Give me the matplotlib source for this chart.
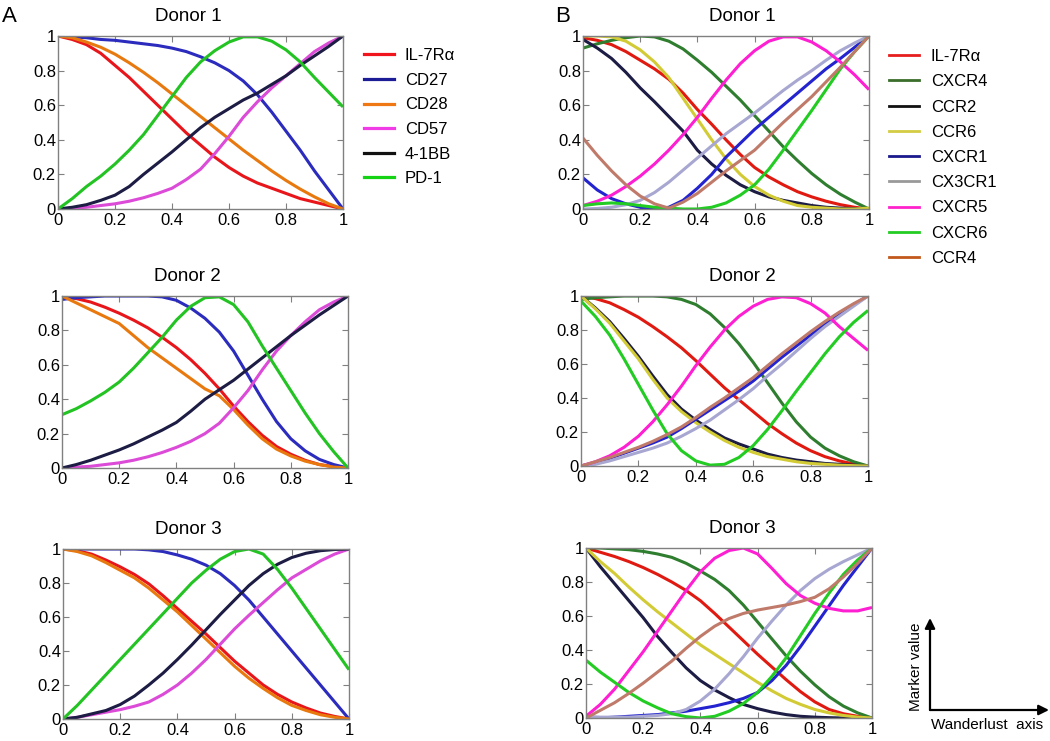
import numpy as np
import matplotlib
matplotlib.use("Agg")
import matplotlib.pyplot as plt
from matplotlib.lines import Line2D
from matplotlib.patches import FancyArrowPatch

plt.rcParams['font.family'] = ['Liberation Sans', 'DejaVu Sans']

# ---------------- data ----------------
x = [0.0, 0.05, 0.1, 0.15, 0.2, 0.25, 0.3, 0.35, 0.4, 0.45, 0.5,
     0.55, 0.6, 0.65, 0.7, 0.75, 0.8, 0.85, 0.9, 0.95, 1.0]

markers_a = ["IL-7Rα", "CD27", "CD28", "CD57", "4-1BB", "PD-1"]
markers_b = ["IL-7Rα", "CXCR4", "CCR2", "CCR6", "CXCR1", "CX3CR1", "CXCR5", "CXCR6", "CCR4"]
donors = ["Donor 1", "Donor 2", "Donor 3"]

# Panel A, donor 1
a1_il7r = [1.0, 0.98, 0.95, 0.90, 0.83, 0.76, 0.68, 0.60, 0.52, 0.44, 0.37, 0.30, 0.24, 0.19, 0.15, 0.12, 0.09, 0.06, 0.04, 0.02, 0.0]
a1_cd27 = [1.0, 0.995, 0.99, 0.98, 0.975, 0.965, 0.955, 0.945, 0.93, 0.91, 0.88, 0.845, 0.80, 0.74, 0.66, 0.56, 0.45, 0.34, 0.22, 0.11, 0.0]
a1_cd28 = [1.0, 0.99, 0.965, 0.935, 0.895, 0.845, 0.79, 0.73, 0.665, 0.60, 0.535, 0.47, 0.405, 0.34, 0.28, 0.22, 0.165, 0.115, 0.07, 0.03, 0.0]
a1_cd57 = [0.0, 0.005, 0.01, 0.02, 0.03, 0.045, 0.065, 0.09, 0.12, 0.17, 0.23, 0.32, 0.42, 0.53, 0.62, 0.70, 0.77, 0.84, 0.91, 0.96, 1.0]
a1_41bb = [0.0, 0.01, 0.025, 0.05, 0.08, 0.13, 0.2, 0.265, 0.33, 0.40, 0.47, 0.53, 0.58, 0.63, 0.67, 0.72, 0.77, 0.83, 0.885, 0.94, 1.0]
a1_pd1 = [0.0, 0.06, 0.13, 0.19, 0.26, 0.34, 0.43, 0.54, 0.65, 0.76, 0.85, 0.915, 0.965, 0.995, 0.995, 0.97, 0.92, 0.85, 0.76, 0.675, 0.59]

# Panel A, donor 2
a2_il7r = [1.0, 0.985, 0.965, 0.935, 0.90, 0.86, 0.815, 0.76, 0.70, 0.63, 0.55, 0.46, 0.36, 0.27, 0.19, 0.125, 0.08, 0.045, 0.02, 0.008, 0.0]
a2_cd27 = [0.98, 0.99, 0.995, 1.0, 1.0, 1.0, 1.0, 0.995, 0.975, 0.93, 0.87, 0.79, 0.68, 0.54, 0.40, 0.27, 0.17, 0.10, 0.05, 0.02, 0.0]
a2_cd28 = [1.0, 0.96, 0.92, 0.88, 0.84, 0.77, 0.70, 0.64, 0.58, 0.52, 0.46, 0.42, 0.34, 0.25, 0.17, 0.11, 0.07, 0.04, 0.02, 0.005, 0.0]
a2_cd57 = [0.0, 0.005, 0.01, 0.02, 0.03, 0.045, 0.065, 0.09, 0.12, 0.155, 0.20, 0.26, 0.35, 0.45, 0.57, 0.68, 0.77, 0.85, 0.92, 0.965, 1.0]
a2_41bb = [0.0, 0.02, 0.045, 0.075, 0.105, 0.14, 0.18, 0.22, 0.265, 0.33, 0.40, 0.455, 0.51, 0.575, 0.64, 0.705, 0.77, 0.83, 0.89, 0.945, 1.0]
a2_pd1 = [0.31, 0.345, 0.39, 0.44, 0.50, 0.58, 0.67, 0.76, 0.86, 0.94, 0.99, 0.995, 0.95, 0.85, 0.71, 0.58, 0.45, 0.32, 0.2, 0.095, 0.0]

# Panel A, donor 3
a3_il7r = [1.0, 0.99, 0.97, 0.935, 0.895, 0.85, 0.795, 0.725, 0.65, 0.575, 0.50, 0.42, 0.34, 0.27, 0.20, 0.145, 0.10, 0.065, 0.035, 0.015, 0.0]
a3_cd27 = [1.0, 1.0, 1.0, 1.0, 1.0, 1.0, 0.995, 0.985, 0.965, 0.94, 0.905, 0.855, 0.785, 0.70, 0.60, 0.50, 0.40, 0.30, 0.20, 0.10, 0.0]
a3_cd28 = [1.0, 0.985, 0.96, 0.92, 0.875, 0.83, 0.77, 0.70, 0.63, 0.55, 0.47, 0.39, 0.31, 0.24, 0.18, 0.125, 0.08, 0.05, 0.025, 0.01, 0.0]
a3_cd57 = [0.0, 0.01, 0.025, 0.04, 0.055, 0.075, 0.10, 0.145, 0.20, 0.27, 0.35, 0.44, 0.53, 0.61, 0.685, 0.76, 0.83, 0.88, 0.93, 0.97, 1.0]
a3_41bb = [0.0, 0.01, 0.03, 0.05, 0.085, 0.135, 0.2, 0.27, 0.35, 0.435, 0.525, 0.615, 0.70, 0.785, 0.855, 0.91, 0.95, 0.975, 0.99, 0.997, 1.0]
a3_pd1 = [0.0, 0.08, 0.17, 0.26, 0.35, 0.44, 0.53, 0.62, 0.71, 0.80, 0.875, 0.94, 0.985, 1.0, 0.97, 0.88, 0.77, 0.65, 0.53, 0.41, 0.29]

# Panel B, donor 1
b1_il7r = [0.99, 0.975, 0.95, 0.91, 0.86, 0.81, 0.75, 0.67, 0.575, 0.49, 0.40, 0.315, 0.24, 0.185, 0.14, 0.10, 0.07, 0.045, 0.025, 0.01, 0.0]
b1_cxcr4 = [0.93, 0.955, 0.975, 0.99, 1.0, 0.995, 0.97, 0.925, 0.86, 0.79, 0.71, 0.63, 0.54, 0.45, 0.36, 0.28, 0.205, 0.14, 0.085, 0.04, 0.0]
b1_ccr2 = [0.98, 0.93, 0.87, 0.79, 0.70, 0.62, 0.535, 0.45, 0.34, 0.26, 0.195, 0.14, 0.10, 0.07, 0.05, 0.035, 0.02, 0.01, 0.005, 0.002, 0.0]
b1_ccr6 = [1.0, 1.0, 0.995, 0.97, 0.92, 0.85, 0.76, 0.64, 0.52, 0.40, 0.29, 0.2, 0.13, 0.08, 0.045, 0.02, 0.01, 0.005, 0.0, 0.0, 0.005]
b1_cxcr1 = [0.18, 0.11, 0.06, 0.03, 0.01, 0.0, 0.01, 0.05, 0.12, 0.2, 0.3, 0.38, 0.46, 0.53, 0.6, 0.67, 0.74, 0.81, 0.87, 0.935, 1.0]
b1_cx3cr1 = [0.0, 0.003, 0.01, 0.025, 0.05, 0.095, 0.155, 0.225, 0.295, 0.365, 0.435, 0.495, 0.555, 0.62, 0.685, 0.745, 0.80, 0.86, 0.915, 0.96, 1.0]
b1_cxcr5 = [0.02, 0.045, 0.08, 0.13, 0.19, 0.26, 0.34, 0.43, 0.53, 0.64, 0.745, 0.84, 0.915, 0.97, 0.995, 0.995, 0.965, 0.915, 0.85, 0.775, 0.69]
b1_cxcr6 = [0.02, 0.03, 0.035, 0.03, 0.02, 0.01, 0.005, 0.0, 0.0, 0.01, 0.035, 0.08, 0.14, 0.23, 0.34, 0.455, 0.57, 0.69, 0.81, 0.91, 1.0]
b1_ccr4 = [0.41, 0.31, 0.22, 0.14, 0.075, 0.03, 0.005, 0.04, 0.09, 0.155, 0.22, 0.28, 0.34, 0.42, 0.50, 0.575, 0.65, 0.735, 0.82, 0.91, 1.0]

# Panel B, donor 2
b2_il7r = [1.0, 0.985, 0.96, 0.92, 0.875, 0.82, 0.76, 0.695, 0.62, 0.54, 0.46, 0.39, 0.32, 0.25, 0.19, 0.135, 0.09, 0.055, 0.03, 0.012, 0.0]
b2_cxcr4 = [0.98, 0.99, 0.995, 1.0, 1.0, 1.0, 0.995, 0.98, 0.95, 0.895, 0.815, 0.72, 0.61, 0.49, 0.37, 0.26, 0.17, 0.105, 0.06, 0.025, 0.0]
b2_ccr2 = [1.0, 0.93, 0.85, 0.75, 0.645, 0.53, 0.42, 0.335, 0.27, 0.215, 0.165, 0.13, 0.10, 0.07, 0.05, 0.035, 0.025, 0.015, 0.01, 0.005, 0.0]
b2_ccr6 = [1.0, 0.925, 0.84, 0.735, 0.63, 0.51, 0.40, 0.32, 0.255, 0.20, 0.15, 0.11, 0.08, 0.055, 0.04, 0.025, 0.015, 0.01, 0.005, 0.002, 0.0]
b2_cxcr1 = [0.0, 0.02, 0.045, 0.075, 0.105, 0.135, 0.17, 0.22, 0.275, 0.33, 0.385, 0.44, 0.50, 0.57, 0.64, 0.705, 0.77, 0.835, 0.895, 0.95, 1.0]
b2_cx3cr1 = [0.0, 0.01, 0.03, 0.055, 0.08, 0.105, 0.135, 0.175, 0.22, 0.27, 0.33, 0.39, 0.455, 0.53, 0.60, 0.675, 0.75, 0.82, 0.88, 0.94, 1.0]
b2_cxcr5 = [0.0, 0.025, 0.06, 0.11, 0.175, 0.26, 0.36, 0.47, 0.59, 0.70, 0.80, 0.88, 0.94, 0.98, 0.995, 0.99, 0.955, 0.9, 0.82, 0.75, 0.68]
b2_cxcr6 = [0.97, 0.88, 0.77, 0.63, 0.48, 0.33, 0.19, 0.09, 0.03, 0.005, 0.01, 0.05, 0.12, 0.215, 0.325, 0.44, 0.55, 0.66, 0.76, 0.845, 0.915]
b2_ccr4 = [0.0, 0.025, 0.05, 0.08, 0.11, 0.145, 0.185, 0.23, 0.285, 0.345, 0.40, 0.46, 0.52, 0.59, 0.66, 0.725, 0.79, 0.85, 0.905, 0.955, 1.0]

# Panel B, donor 3
b3_il7r = [1.0, 0.975, 0.95, 0.92, 0.885, 0.845, 0.80, 0.75, 0.69, 0.615, 0.535, 0.455, 0.375, 0.30, 0.225, 0.155, 0.095, 0.05, 0.025, 0.01, 0.0]
b3_cxcr4 = [1.0, 1.0, 0.995, 0.99, 0.98, 0.965, 0.945, 0.91, 0.865, 0.815, 0.75, 0.665, 0.565, 0.465, 0.365, 0.275, 0.195, 0.125, 0.07, 0.03, 0.0]
b3_ccr2 = [1.0, 0.89, 0.79, 0.69, 0.59, 0.48, 0.385, 0.295, 0.22, 0.165, 0.12, 0.08, 0.055, 0.035, 0.02, 0.01, 0.005, 0.002, 0.0, 0.0, 0.0]
b3_ccr6 = [1.0, 0.92, 0.85, 0.77, 0.695, 0.625, 0.56, 0.495, 0.43, 0.375, 0.32, 0.265, 0.21, 0.16, 0.115, 0.08, 0.05, 0.03, 0.015, 0.005, 0.0]
b3_cxcr1 = [0.0, 0.0, 0.005, 0.01, 0.015, 0.02, 0.03, 0.04, 0.055, 0.07, 0.09, 0.115, 0.15, 0.22, 0.31, 0.42, 0.54, 0.66, 0.78, 0.89, 1.0]
b3_cx3cr1 = [0.01, 0.005, 0.005, 0.005, 0.01, 0.015, 0.025, 0.05, 0.1, 0.17, 0.26, 0.36, 0.47, 0.57, 0.665, 0.75, 0.82, 0.875, 0.92, 0.96, 1.0]
b3_cxcr5 = [0.01, 0.08, 0.17, 0.28, 0.39, 0.51, 0.63, 0.75, 0.86, 0.94, 0.985, 1.0, 0.965, 0.88, 0.79, 0.72, 0.675, 0.645, 0.63, 0.63, 0.65]
b3_cxcr6 = [0.34, 0.27, 0.21, 0.15, 0.10, 0.06, 0.025, 0.008, 0.0, 0.01, 0.04, 0.085, 0.15, 0.245, 0.355, 0.485, 0.615, 0.735, 0.845, 0.93, 1.0]
b3_ccr4 = [0.0, 0.045, 0.09, 0.145, 0.205, 0.27, 0.335, 0.41, 0.48, 0.54, 0.585, 0.615, 0.635, 0.65, 0.665, 0.685, 0.71, 0.76, 0.83, 0.91, 1.0]

ticks = [0, 0.2, 0.4, 0.6, 0.8, 1]
tick_labels = ["0", "0.2", "0.4", "0.6", "0.8", "1"]

# ---------------- styles ----------------
colors_a = ['#e8161b', '#2b2bbd', '#e8790f', '#dc4ad8', '#1c1c44', '#22c322']
legend_colors_a = ['#f0141c', '#1c1c96', '#f07814', '#f03ce6', '#111111', '#14d214']
colors_b = ['#e01a10', '#2f7d2f', '#1c1c44', '#d2cb35', '#2323cf', '#a7a7d2', '#ff1fd2', '#22cc22', '#c07a6a']
legend_colors_b = ['#e61e1e', '#3a6e2a', '#111111', '#d4cc44', '#1a1a8c', '#999999', '#ff22cc', '#22cc22', '#c2581c']

data_a = [
    [a1_il7r, a1_cd27, a1_cd28, a1_cd57, a1_41bb, a1_pd1],
    [a2_il7r, a2_cd27, a2_cd28, a2_cd57, a2_41bb, a2_pd1],
    [a3_il7r, a3_cd27, a3_cd28, a3_cd57, a3_41bb, a3_pd1],
]
data_b = [
    [b1_il7r, b1_cxcr4, b1_ccr2, b1_ccr6, b1_cxcr1, b1_cx3cr1, b1_cxcr5, b1_cxcr6, b1_ccr4],
    [b2_il7r, b2_cxcr4, b2_ccr2, b2_ccr6, b2_cxcr1, b2_cx3cr1, b2_cxcr5, b2_cxcr6, b2_ccr4],
    [b3_il7r, b3_cxcr4, b3_ccr2, b3_ccr6, b3_cxcr1, b3_cx3cr1, b3_cxcr5, b3_cxcr6, b3_ccr4],
]

W, H = 1050, 741
fig = plt.figure(figsize=(W / 100, H / 100), dpi=100)

def px_axes(l, r, t, b):
    return [l / W, 1 - b / H, (r - l) / W, (b - t) / H]

boxes_a = [(58, 343, 36, 209), (62, 348, 296, 468), (63, 349, 549, 719)]
boxes_b = [(583, 869, 36, 209), (581, 868, 296, 466), (586, 872, 548, 718)]
title_x_a = [0.456, 0.44, 0.437]
title_x_b = [0.556, 0.561, 0.545]

def style_axes(ax):
    ax.set_xlim(0, 1)
    ax.set_ylim(0, 1)
    ax.set_xticks(ticks)
    ax.set_xticklabels(tick_labels)
    ax.set_yticks(ticks)
    ax.set_yticklabels(tick_labels)
    for s in ax.spines.values():
        s.set_color('#808080')
        s.set_linewidth(1.0)
    ax.tick_params(direction='in', length=4, width=0.8, color='#808080',
                   top=True, right=True, labelsize=12, labelcolor='black')
    ax.tick_params(axis='y', pad=1.5)
    ax.tick_params(axis='x', pad=3)

for i in range(3):
    ax = fig.add_axes(px_axes(*boxes_a[i]))
    for vals, c in zip(data_a[i], colors_a):
        ax.plot(x, vals, color=c, lw=2.2, solid_capstyle='butt')
    style_axes(ax)
    ax.set_title(donors[i], fontsize=13.5, x=title_x_a[i], pad=11)

    ax = fig.add_axes(px_axes(*boxes_b[i]))
    for vals, c in zip(data_b[i], colors_b):
        ax.plot(x, vals, color=c, lw=2.2, solid_capstyle='butt')
    style_axes(ax)
    ax.set_title(donors[i], fontsize=13.5, x=title_x_b[i], pad=11)

# legends
handles_a = [Line2D([], [], color=c, lw=2.3) for c in legend_colors_a]
fig.legend(handles_a, markers_a, loc='upper left',
           bbox_to_anchor=(364 / W, 1 - 48 / H), frameon=False,
           fontsize=12, handlelength=1.8, handletextpad=0.66, labelspacing=0.58,
           borderaxespad=0, borderpad=0)
handles_b = [Line2D([], [], color=c, lw=2.0) for c in legend_colors_b]
fig.legend(handles_b, markers_b, loc='upper left',
           bbox_to_anchor=(889 / W, 1 - 49 / H), frameon=False,
           fontsize=12, handlelength=1.8, handletextpad=0.72, labelspacing=0.615,
           borderaxespad=0, borderpad=0)

# panel letters
fig.text(2 / W, 1 - 22 / H, "A", fontsize=16)
fig.text(555 / W, 1 - 22 / H, "B", fontsize=16)

# axis diagram
ox, oy = 930, 710
for end in [(ox, 618), (1049, oy)]:
    fig.add_artist(FancyArrowPatch(
        (ox / W, 1 - oy / H), (end[0] / W, 1 - end[1] / H), transform=fig.transFigure,
        arrowstyle='-|>,head_length=6,head_width=3', color='black', lw=1.6,
        shrinkA=0, shrinkB=0))
fig.text(916 / W, 1 - 667 / H, "Marker value", rotation=90, ha='center', va='center', fontsize=11)
fig.text(931 / W, 1 - 725 / H, "Wanderlust  axis", ha='left', va='center', fontsize=11)

fig.savefig("out.png", dpi=100)
